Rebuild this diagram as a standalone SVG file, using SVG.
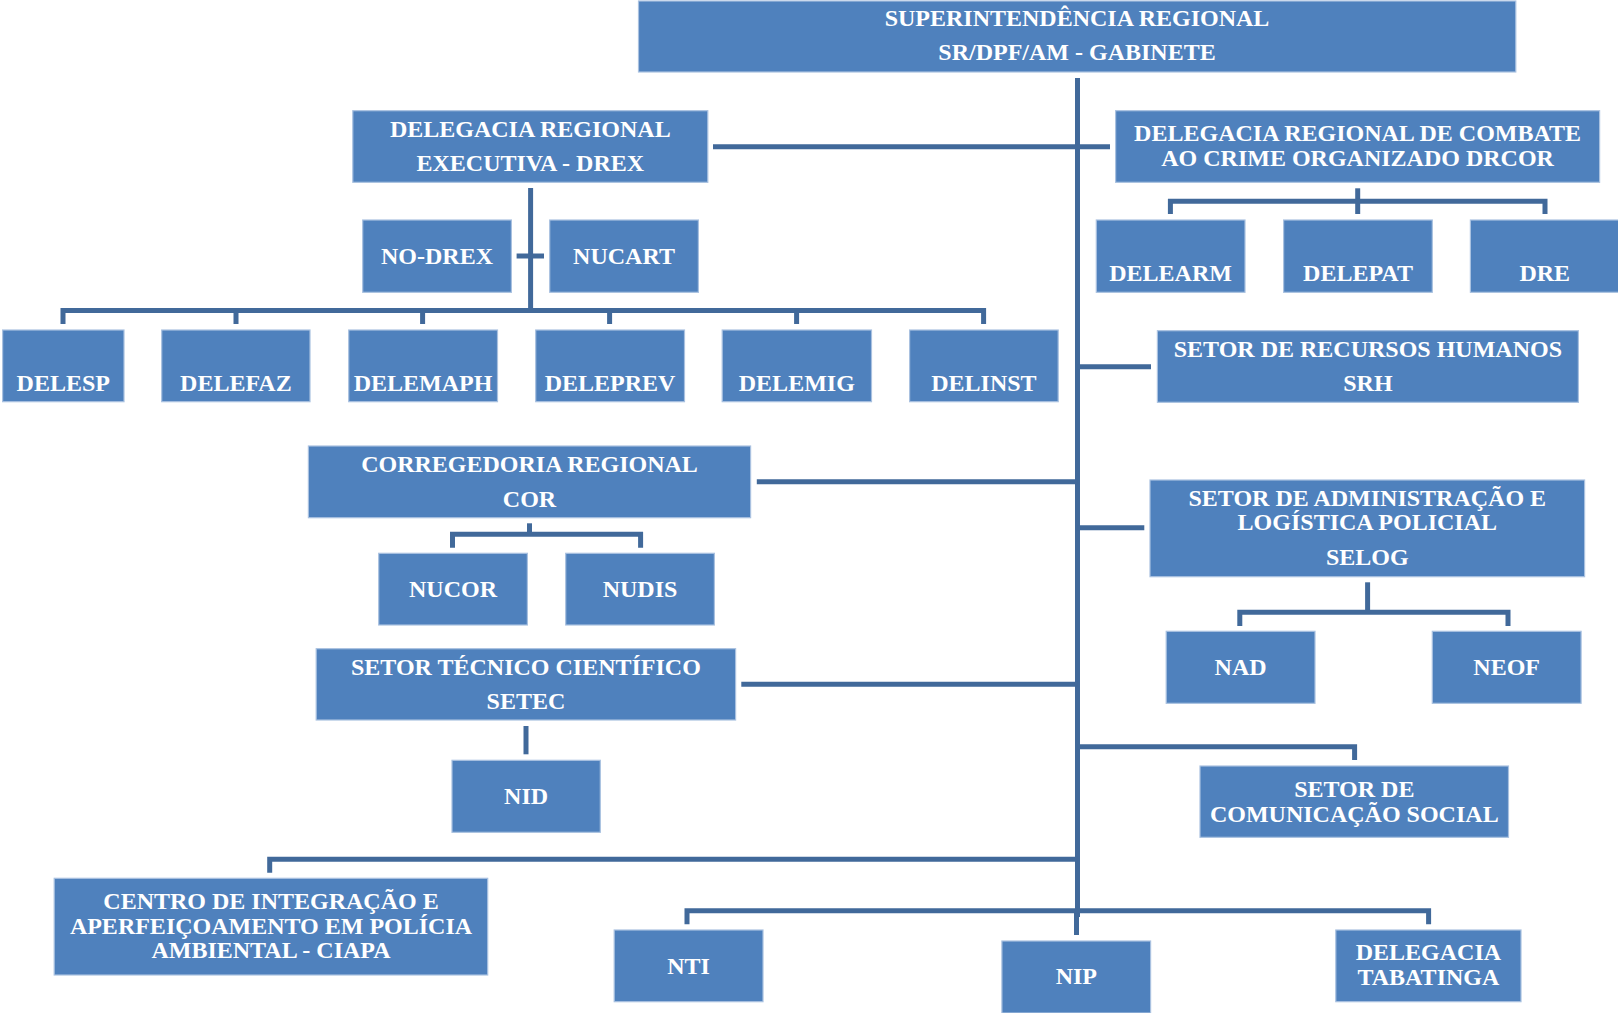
<svg xmlns="http://www.w3.org/2000/svg" width="1618" height="1013" viewBox="0 0 1618 1013">
<style>
.box{fill:#4F81BD;stroke:#A9C1E0;stroke-width:1.2}
.t{font-family:"Liberation Serif","Times New Roman",serif;font-weight:bold;font-size:24px;fill:#FFFFFF;text-anchor:middle}
.c{fill:none;stroke:#41699A;stroke-width:5;stroke-linejoin:miter;stroke-linecap:butt}
</style>
<rect width="1618" height="1013" fill="#FFFFFF"/>
<g id="connectors">
<path class="c" d="M1077.5 78 V917"/>
<path class="c" d="M1076.5 912 V935"/>
<path class="c" d="M713 146.7 H1110"/>
<path class="c" d="M530.6 188 V310.5"/>
<path class="c" d="M516.6 256 H544"/>
<path class="c" d="M63 324 V310.5 H983.6 V324"/>
<path class="c" d="M236 310.5 V324 M422.6 310.5 V324 M609.6 310.5 V324 M796.6 310.5 V324"/>
<path class="c" d="M1357.7 188.3 V214"/>
<path class="c" d="M1170.4 214 V201.3 H1545 V214"/>
<path class="c" d="M1077.5 366.7 H1151"/>
<path class="c" d="M756.8 481.7 H1077.5"/>
<path class="c" d="M529.5 523.3 V534.3"/>
<path class="c" d="M452.5 547.7 V534.3 H640.6 V547.7"/>
<path class="c" d="M1077.5 527.7 H1144.3"/>
<path class="c" d="M1367.6 582.3 V612.3"/>
<path class="c" d="M1239.8 626 V612.3 H1508 V626"/>
<path class="c" d="M741.3 684.3 H1077.5"/>
<path class="c" d="M526 726 V754.3"/>
<path class="c" d="M1077.5 746.7 H1354.6 V760"/>
<path class="c" d="M269.7 872.7 V859.3 H1077.5"/>
<path class="c" d="M687 924.3 V910.7 H1428.6 V924.3"/>
</g>
<g id="n-sr"><rect class="box" x="638.5" y="1" width="877.3" height="71"/><text class="t" x="1077" y="26">SUPERINTENDÊNCIA REGIONAL</text><text class="t" x="1077" y="60">SR/DPF/AM - GABINETE</text></g>
<g id="n-drex"><rect class="box" x="352.8" y="110.7" width="355" height="71.6"/><text class="t" x="530.3" y="136.5">DELEGACIA REGIONAL</text><text class="t" x="530.3" y="170.5">EXECUTIVA - DREX</text></g>
<g id="n-drcor"><rect class="box" x="1115.6" y="110.7" width="484" height="71.6"/><text class="t" x="1357.6" y="140.5">DELEGACIA REGIONAL DE COMBATE</text><text class="t" x="1357.6" y="165.5">AO CRIME ORGANIZADO DRCOR</text></g>
<g id="n-nodrex"><rect class="box" x="362.7" y="220" width="148.7" height="72.3"/><text class="t" x="437" y="264">NO-DREX</text></g>
<g id="n-nucart"><rect class="box" x="549.7" y="220" width="148.7" height="72.3"/><text class="t" x="624" y="264">NUCART</text></g>
<g id="n-delearm"><rect class="box" x="1096.3" y="220" width="148.7" height="72.3"/><text class="t" x="1170.6" y="280.5">DELEARM</text></g>
<g id="n-delepat"><rect class="box" x="1283.6" y="220" width="148.7" height="72.3"/><text class="t" x="1358" y="280.5">DELEPAT</text></g>
<g id="n-dre"><rect class="box" x="1470.4" y="220" width="149" height="72.3"/><text class="t" x="1544.8" y="280.5">DRE</text></g>
<g id="n-delesp"><rect class="box" x="2.6" y="330" width="121.4" height="71.7"/><text class="t" x="63.3" y="391">DELESP</text></g>
<g id="n-delefaz"><rect class="box" x="161.7" y="330" width="148.3" height="71.7"/><text class="t" x="235.9" y="391">DELEFAZ</text></g>
<g id="n-delemaph"><rect class="box" x="348.7" y="330" width="148.8" height="71.7"/><text class="t" x="423.1" y="391">DELEMAPH</text></g>
<g id="n-deleprev"><rect class="box" x="535.7" y="330" width="148.8" height="71.7"/><text class="t" x="610.1" y="391">DELEPREV</text></g>
<g id="n-delemig"><rect class="box" x="722.2" y="330" width="149.3" height="71.7"/><text class="t" x="796.8" y="391">DELEMIG</text></g>
<g id="n-delinst"><rect class="box" x="909.6" y="330" width="148.6" height="71.7"/><text class="t" x="983.9" y="391">DELINST</text></g>
<g id="n-srh"><rect class="box" x="1157.4" y="330.7" width="421" height="71.6"/><text class="t" x="1367.9" y="356.5">SETOR DE RECURSOS HUMANOS</text><text class="t" x="1367.9" y="390.5">SRH</text></g>
<g id="n-cor"><rect class="box" x="308.4" y="446" width="442.2" height="71.7"/><text class="t" x="529.5" y="471.5">CORREGEDORIA REGIONAL</text><text class="t" x="529.5" y="506.5">COR</text></g>
<g id="n-selog"><rect class="box" x="1150" y="480" width="434.6" height="96.7"/><text class="t" x="1367.3" y="506">SETOR DE ADMINISTRAÇÃO E</text><text class="t" x="1367.3" y="530">LOGÍSTICA POLICIAL</text><text class="t" x="1367.3" y="564.5">SELOG</text></g>
<g id="n-nucor"><rect class="box" x="378.7" y="553.3" width="148.7" height="71.7"/><text class="t" x="453" y="597">NUCOR</text></g>
<g id="n-nudis"><rect class="box" x="565.7" y="553.3" width="148.7" height="71.7"/><text class="t" x="640" y="597">NUDIS</text></g>
<g id="n-setec"><rect class="box" x="316.2" y="648.7" width="419.4" height="71.3"/><text class="t" x="525.9" y="675">SETOR TÉCNICO CIENTÍFICO</text><text class="t" x="525.9" y="709">SETEC</text></g>
<g id="n-nad"><rect class="box" x="1166.2" y="631.3" width="148.8" height="72"/><text class="t" x="1240.6" y="675">NAD</text></g>
<g id="n-neof"><rect class="box" x="1432.3" y="631.3" width="148.8" height="72"/><text class="t" x="1506.7" y="675">NEOF</text></g>
<g id="n-nid"><rect class="box" x="452" y="760.3" width="148.3" height="72"/><text class="t" x="526.1" y="804">NID</text></g>
<g id="n-scs"><rect class="box" x="1200" y="766" width="308.5" height="71.3"/><text class="t" x="1354.3" y="797">SETOR DE</text><text class="t" x="1354.3" y="822">COMUNICAÇÃO SOCIAL</text></g>
<g id="n-ciapa"><rect class="box" x="54.2" y="878.3" width="433.5" height="96.7"/><text class="t" x="271" y="909">CENTRO DE INTEGRAÇÃO E</text><text class="t" x="271" y="933.5">APERFEIÇOAMENTO EM POLÍCIA</text><text class="t" x="271" y="958">AMBIENTAL - CIAPA</text></g>
<g id="n-nti"><rect class="box" x="614.2" y="930" width="148.8" height="71.7"/><text class="t" x="688.6" y="973.5">NTI</text></g>
<g id="n-nip"><rect class="box" x="1001.9" y="941" width="148.7" height="72"/><text class="t" x="1076.3" y="984">NIP</text></g>
<g id="n-tabatinga"><rect class="box" x="1335.8" y="930" width="185.2" height="71.7"/><text class="t" x="1428.4" y="960">DELEGACIA</text><text class="t" x="1428.4" y="984.5">TABATINGA</text></g>
</svg>
